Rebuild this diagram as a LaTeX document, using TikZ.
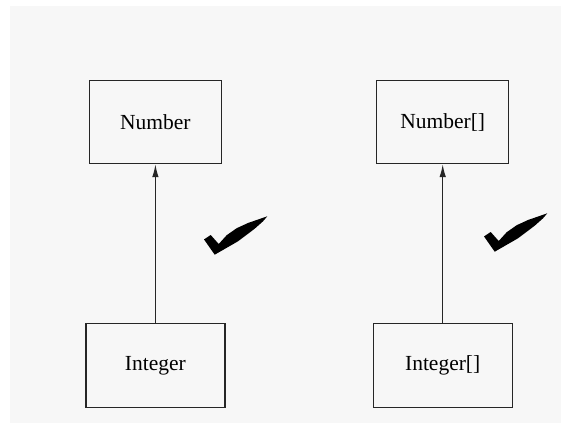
\documentclass[tikz,border=0pt]{standalone}
\usepackage{fontspec}
\setmainfont{Liberation Serif}
\usetikzlibrary{arrows.meta,positioning}
\tikzset{
  cls/.style  = {draw=black!85, line width=1.3pt, minimum width=132pt, minimum height=83pt,
                 inner sep=0pt, font=\fontsize{21.5}{26}\selectfont},
  wide/.style = {minimum width=139pt, minimum height=84pt},
  sig/.style  = {-{Latex[length=13pt,width=6.5pt]}, line width=1.3pt, draw=black!85},
  tick/.pic   = {\fill (0,0) -- (-10.7,-15.3) -- (-4,-19.7) -- (4,-10.7) -- (12,-19.5)
                 -- (22,-26.5) -- (33.3,-31.7) -- (52.6,-38.4) -- (48.3,-33.4)
                 -- (40,-26) -- (23.3,-13.4) -- cycle;},
}

\begin{document}
\begin{tikzpicture}[x=1pt,y=-1pt]
  \fill[black!3] (10,6) rectangle (561,423);
  \useasboundingbox (0,0) rectangle (561,423);
  \node[cls] (num) at (155.4,122) {Number};
  \node[cls, wide, below=159pt of num] (int) {Integer};
  \node[cls, right=154pt of num] (numarr) {Number[]};
  \node[cls, wide, below=159pt of numarr] (intarr) {Integer[]};
  \draw[sig] (int) -- (num);
  \draw[sig] (intarr) -- (numarr);
  % both subtype relations hold
  \pic at (214.7,254.7) {tick};
  \pic at (494.7,251.7) {tick};
\end{tikzpicture}
\end{document}
